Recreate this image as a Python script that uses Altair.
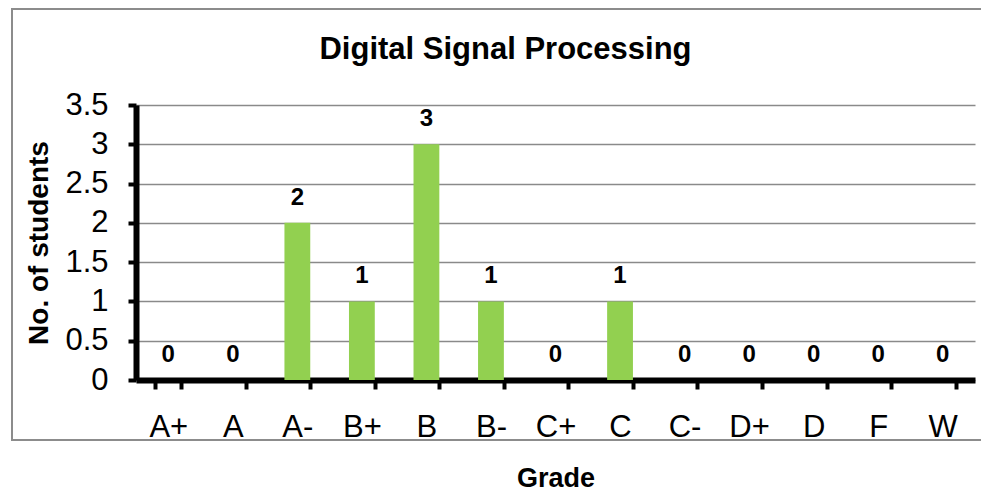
import altair as alt
import pandas as pd

grades = ["A+", "A", "A-", "B+", "B", "B-", "C+", "C", "C-", "D+", "D", "F", "W"]
students = [0, 0, 2, 1, 3, 1, 0, 1, 0, 0, 0, 0, 0]
y_ticks = [0, 0.5, 1, 1.5, 2, 2.5, 3, 3.5]

df = pd.DataFrame({"Grade": grades, "Students": students})
frame_df = pd.DataFrame({"f": [0]})

FONT = "Liberation Sans"
W, H = 839, 275

x_enc = alt.X(
    "Grade:N",
    sort=grades,
    scale=alt.Scale(paddingInner=0.6, paddingOuter=0.3),
    axis=alt.Axis(
        title="Grade",
        titleFont=FONT,
        titleFontSize=27,
        titleFontWeight="bold",
        titleColor="black",
        titleBaseline="alphabetic",
        titleX=W / 2,
        titleY=106,
        labelFont=FONT,
        labelFontSize=31,
        labelColor="black",
        labelAngle=0,
        labelPadding=23,
        tickBand="extent",
        tickSize=9,
        tickWidth=4,
        tickColor="black",
        domainColor="black",
        domainWidth=6,
        grid=False,
    ),
)

y_enc = alt.Y(
    "Students:Q",
    scale=alt.Scale(domain=[0, 3.5], nice=False),
    axis=alt.Axis(
        title="No. of students",
        titleFont=FONT,
        titleFontSize=28,
        titleFontWeight="bold",
        titleColor="black",
        titleBaseline="alphabetic",
        titleX=-89,
        titleY=H / 2,
        values=y_ticks,
        tickCount=8,
        format="~g",
        labelOverlap=False,
        labelFont=FONT,
        labelFontSize=31,
        labelColor="black",
        labelPadding=20,
        tickSize=8,
        tickWidth=4,
        tickColor="black",
        domainColor="black",
        domainWidth=6,
        grid=True,
        gridColor="#8a8a8a",
        gridWidth=1.6,
    ),
)

frame = alt.Chart(frame_df).mark_rect(
    fill=None, stroke="#8c8c8c", strokeWidth=2
).encode(
    x=alt.value(-124), x2=alt.value(W + 40),
    y=alt.value(-96), y2=alt.value(H + 60),
)

bars = alt.Chart(df).mark_bar(color="#92D050").encode(x=x_enc, y=y_enc)

labels = alt.Chart(df).mark_text(
    font=FONT, fontSize=24, fontWeight="bold", color="black",
    baseline="alphabetic", dy=-18,
).encode(x=x_enc, y=y_enc, text="Students:Q")

chart = alt.layer(frame, bars, labels).properties(
    width=W,
    height=H,
    padding={"left": 128, "top": 97, "right": 6, "bottom": 112},
    autosize=alt.AutoSizeParams(type="none"),
    title=alt.TitleParams(
        "Digital Signal Processing",
        font=FONT, fontSize=31, fontWeight="bold", color="black",
        anchor="middle", frame="group", baseline="alphabetic",
        offset=-82, dx=-50,
    ),
).configure_view(stroke=None)

chart.save("out.html", embed_options={"renderer": "svg", "actions": False})
